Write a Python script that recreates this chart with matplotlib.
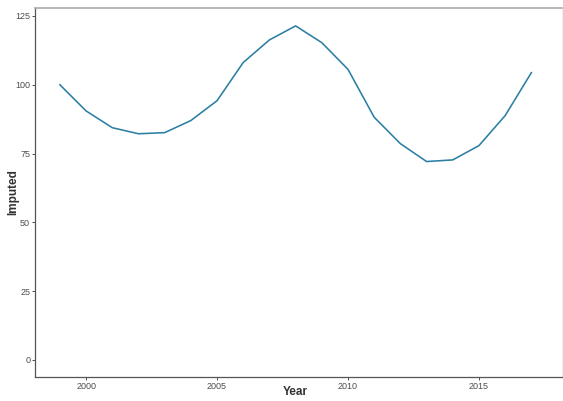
import matplotlib
matplotlib.use("Agg")
import matplotlib.pyplot as plt

plt.rcParams['font.family'] = ['Liberation Sans', 'DejaVu Sans']

years = [1999, 2000, 2001, 2002, 2003, 2004, 2005, 2006, 2007, 2008,
         2009, 2010, 2011, 2012, 2013, 2014, 2015, 2016, 2017]
imputed = [100.0, 90.5, 84.4, 82.2, 82.6, 87.0, 94.2, 108.1, 116.3, 121.4,
           115.3, 105.6, 88.2, 78.6, 72.1, 72.7, 77.9, 88.8, 104.4]
x_ticks = [2000, 2005, 2010, 2015]
y_ticks = [0, 25, 50, 75, 100, 125]

fig = plt.figure(figsize=(5.63, 4.01), dpi=100)
ax = fig.add_axes([35 / 563, 24 / 401, 527 / 563, 369 / 401])

ax.plot(years, imputed, color="#2b7fa3", linewidth=1.15)

ax.set_xlim(1998.05, 2018.17)
ax.set_ylim(-6.2, 127.9)
ax.set_xticks(x_ticks)
ax.set_yticks(y_ticks)
ax.tick_params(axis="both", labelsize=6.5, colors="#333333", length=2, width=0.6,
               labelcolor="#4d4d4d", pad=1.5)

ax.set_xlabel("Year", fontsize=8.5, color="#333333", fontweight="bold")
ax.set_ylabel("Imputed", fontsize=8.5, color="#333333", fontweight="bold")
ax.xaxis.set_label_coords(0.493, -0.025)
ax.yaxis.set_label_coords(-0.03, 0.5)

ax.spines["left"].set_color("#555555")
ax.spines["bottom"].set_color("#555555")
ax.spines["left"].set_linewidth(0.9)
ax.spines["bottom"].set_linewidth(0.9)
ax.spines["top"].set_color("#aaaaaa")
ax.spines["top"].set_linewidth(1.2)
ax.spines["right"].set_color("#f0f0f0")

fig.savefig("out.png", dpi=100)
